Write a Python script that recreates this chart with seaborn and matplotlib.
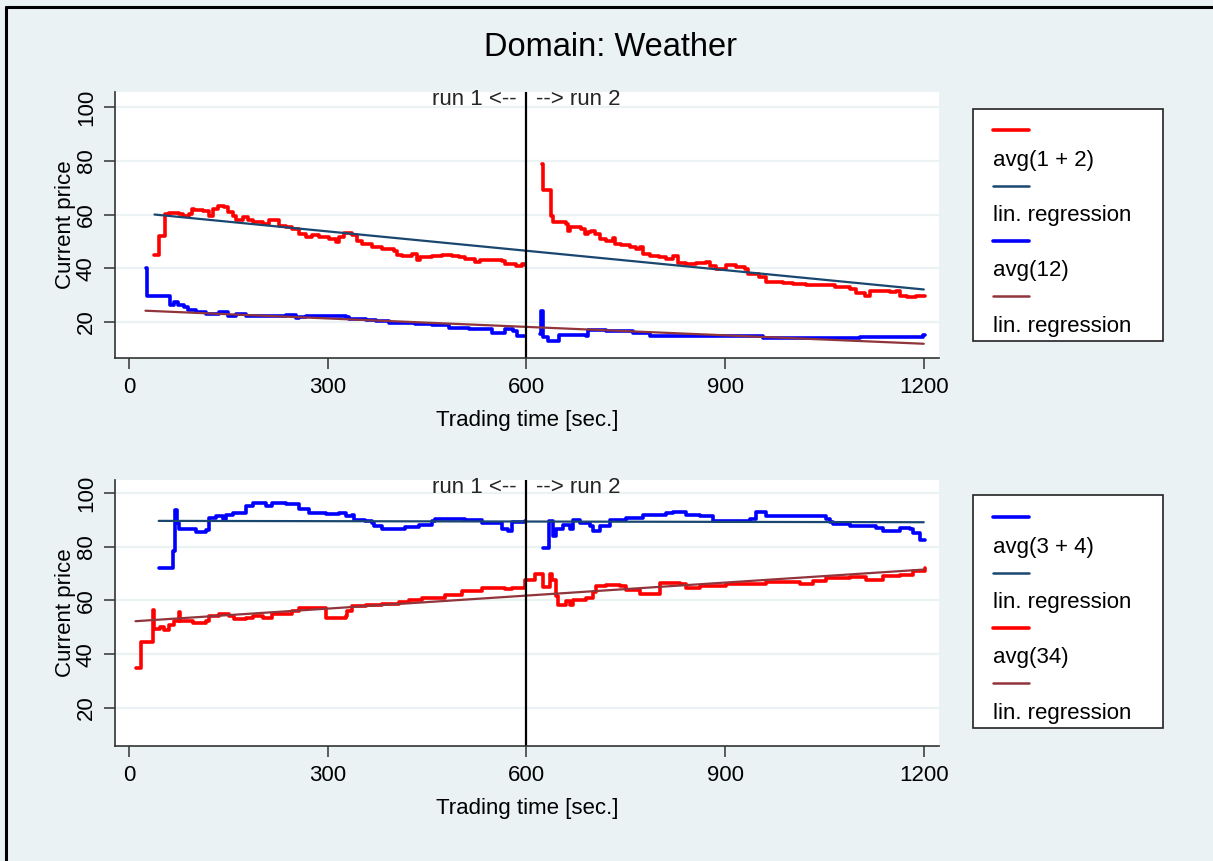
import pandas as pd
import matplotlib.pyplot as plt
import seaborn as sns
from matplotlib.lines import Line2D
from matplotlib.patches import Rectangle
from matplotlib.transforms import blended_transform_factory

# --- data: (trading time [sec.], current price) ---
# top panel
avg_1_2_run1 = [(38.6, 45.1), (45.2, 52.1), (54.2, 60.3), (61.2, 60.5), (76.3, 60.3), (81.3, 59.6),
                (91.3, 60.3), (95.3, 62.1), (98.8, 61.5), (111.4, 61.2), (121.4, 59.3), (126.4, 62.1),
                (134, 63.0), (144, 62.7), (149, 60.9), (156.5, 59.3), (161.5, 57.8), (171.6, 59.0),
                (179.1, 57.8), (186.6, 57.2), (201.7, 56.5), (211.7, 57.8), (219.2, 58.0), (226.8, 55.9),
                (236.8, 55.3), (246.8, 54.7), (256.9, 52.6), (266.9, 51.8), (276.9, 52.2), (287, 51.6),
                (302, 50.9), (312, 49.7), (317, 51.6), (324.6, 53.1), (337, 52.2), (344.7, 50.3),
                (352, 49.1), (367, 47.8), (382, 47.2), (400, 46.6), (405, 45.1), (412, 44.5),
                (427, 45.4), (435, 42.9), (440, 44.1), (457.5, 44.4), (472.6, 45.1), (487.7, 44.4),
                (497.7, 44.1), (507.7, 43.5), (522.8, 42.2), (530, 43.2), (548, 42.9), (563, 42.6),
                (568, 41.6), (585, 41.0), (593, 41.6), (598, 41.3)]
avg_1_2_run2 = [(623.7, 78.9), (625.2, 69.2), (637, 59.6), (640.3, 57.2), (660.4, 56.5), (662.9, 53.8),
                (665.4, 55.3), (683, 54.7), (688, 52.6), (693, 53.4), (698, 54.0), (703, 52.8),
                (710.7, 50.9), (720.8, 50.3), (730.9, 51.3), (733.4, 49.1), (743.5, 48.5), (756, 47.8),
                (766, 47.2), (771, 47.8), (776, 45.4), (786, 44.4), (801, 44.1), (811, 43.5),
                (821.5, 44.4), (829, 41.9), (841.6, 41.6), (856.7, 41.9), (871.8, 42.2), (876.9, 41.0),
                (887, 39.8), (902, 41.3), (917, 40.4), (929.7, 39.8), (934.8, 37.9), (952, 36.7),
                (962.4, 34.8), (987.6, 34.5), (1002.7, 34.2), (1022.9, 33.9), (1048, 33.7), (1063, 33.9),
                (1065.6, 32.9), (1088, 32.3), (1098.3, 30.8), (1110.9, 29.8), (1118.5, 31.4),
                (1148.7, 31.1), (1158.8, 31.7), (1163.8, 29.8), (1174, 29.2), (1189, 29.8), (1201.6, 29.8)]
avg_12_run1 = [(25.1, 40.1), (27.1, 29.8), (62.2, 26.5), (68.7, 27.3), (73.7, 26.5), (83.8, 25.5),
               (88.8, 24.5), (101.3, 23.6), (116.4, 23.0), (136.5, 23.6), (149, 22.4), (161.5, 23.0),
               (176.6, 22.4), (236.8, 22.6), (251.9, 21.5), (256.9, 22.0), (266.9, 22.4), (327.1, 21.8),
               (332.1, 21.1), (357.2, 20.8), (372.3, 20.3), (392.3, 19.5), (432.5, 19.3), (457.5, 18.7),
               (482.6, 17.8), (512.7, 17.4), (547.9, 15.8), (567.9, 17.4), (580.5, 16.5), (585.5, 14.9),
               (598, 14.9)]
avg_12_run2 = [(620, 15.5), (622.7, 24.2), (625, 14.3), (632.7, 13.1), (649, 15.3), (690.6, 14.9),
               (693, 17.0), (710.7, 17.0), (720.8, 16.5), (761, 15.8), (786, 14.9), (957.4, 14.1),
               (1103, 14.6), (1199, 15.3), (1201.6, 15.3)]
reg_1_2 = [(38.6, 60.0), (1200, 32.1)]
reg_12 = [(25, 24.2), (1200, 11.9)]

# bottom panel
avg_3_4_run1 = [(45.2, 72.1), (67.2, 78.3), (70.2, 93.8), (72.2, 88.8), (76.3, 86.6), (86.3, 86.4),
                (101.3, 85.4), (116.4, 86.1), (121.4, 90.7), (131.4, 91.3), (141.5, 90.3), (146.5, 91.9),
                (156.5, 92.7), (176.6, 95.0), (186.6, 96.3), (206.7, 95.3), (216.7, 96.3), (236.8, 95.7),
                (256.9, 94.0), (272, 92.6), (297, 92.3), (317, 92.6), (327, 91.3), (337, 91.9),
                (339.6, 90.1), (357, 89.5), (367, 88.8), (369.7, 87.6), (382, 86.6), (417.4, 87.4),
                (437.5, 88.2), (457.5, 89.5), (462.6, 90.3), (507.7, 89.8), (532.8, 88.8), (562.9, 86.4),
                (572.9, 85.7), (578, 89.1), (598, 89.5)]
avg_3_4_run2 = [(625.2, 79.5), (634.2, 89.5), (640.3, 83.9), (645.3, 86.4), (655.4, 88.2), (665.4, 86.4),
                (670.5, 90.1), (680.5, 88.8), (695.6, 87.6), (700.7, 85.7), (710.7, 87.6), (725.9, 90.1),
                (751, 90.7), (776.2, 91.9), (811.4, 92.6), (821.5, 92.8), (841.6, 91.9), (861.8, 91.3),
                (881.9, 89.5), (937.3, 90.3), (947.3, 92.8), (962.4, 91.5), (1033, 91.5), (1053, 90.3),
                (1058, 89.1), (1063, 88.6), (1088.3, 87.6), (1128.6, 87.0), (1138.6, 86.0), (1163.8, 87.0),
                (1178.9, 86.4), (1184, 85.1), (1195, 82.6), (1201.6, 82.6)]
avg_34_run1 = [(10.0, 34.9), (18.6, 44.4), (37.1, 56.3), (38.6, 49.4), (46.2, 50.3), (53.7, 48.9),
               (61.2, 51.0), (68.7, 52.2), (76.3, 55.6), (77.3, 52.3), (96.3, 51.6), (116.4, 52.3),
               (121.4, 54.1), (136.5, 55.1), (151.5, 54.3), (159, 53.1), (176.6, 53.5), (186.6, 54.1),
               (201.7, 53.5), (216.7, 55.1), (246.8, 56.0), (256.9, 57.2), (297.9, 53.5), (327.1, 54.1),
               (329.6, 56.0), (337.2, 57.8), (357.2, 58.4), (382.3, 58.8), (407.3, 59.3), (422.4, 60.3),
               (442.5, 60.9), (477.6, 62.2), (502.7, 63.4), (532.8, 64.7), (567.9, 64.3), (577.9, 64.7),
               (598, 67.8)]
avg_34_run2 = [(600, 67.8), (612.6, 70.0), (625.2, 65.0), (635.2, 70.0), (639.3, 67.8), (645.3, 61.6),
               (647.8, 58.5), (660.4, 59.7), (665.4, 58.5), (670.5, 60.3), (690.6, 60.9), (700.7, 63.0),
               (705.7, 65.3), (720.8, 65.9), (741, 65.3), (751, 63.8), (771, 62.6), (796, 62.6),
               (801.4, 66.5), (831.6, 66.3), (841.6, 64.7), (861.8, 65.3), (902, 66.3), (962.4, 66.8),
               (1012.8, 66.0), (1033, 67.1), (1053, 68.4), (1088.3, 68.8), (1113.5, 67.5), (1138.6, 69.2),
               (1163.8, 69.6), (1184, 70.9), (1201.6, 72.1)]
reg_3_4 = [(45, 89.6), (1200, 89.1)]
reg_34 = [(10, 52.3), (1200, 71.5)]

run_break = 600
x_ticks = [0, 300, 600, 900, 1200]
y_ticks = [20, 40, 60, 80, 100]

RED, BLUE, NAVY, MAROON = '#ff0000', '#0000ff', '#1a476f', '#90353b'
BG = '#eaf2f3'
FS = 16

sns.set_theme(style='white')
plt.rcParams['font.family'] = ['Liberation Sans', 'DejaVu Sans']

W, H = 1213, 861
fig = plt.figure(figsize=(W / 100, H / 100), dpi=100, facecolor=BG)


def fx(px):
    return px / W


def fy(py):
    return 1 - py / H


def df_of(pts):
    return pd.DataFrame(pts, columns=['t', 'price'])


def draw_panel(rect, ylim, step_series, reg_series, legend_items, legend_top, box_top, box_bottom):
    ax = fig.add_axes(rect)
    ax.set_facecolor('white')
    for pts, col in step_series:
        sns.lineplot(data=df_of(pts), x='t', y='price', ax=ax, color=col, lw=2.6,
                     drawstyle='steps-post', estimator=None, sort=False)
    for pts, col in reg_series:
        sns.lineplot(data=df_of(pts), x='t', y='price', ax=ax, color=col, lw=1.6,
                     estimator=None, sort=False)
    ax.axvline(run_break, color='black', lw=1.6)
    tr = blended_transform_factory(ax.transData, ax.transAxes)
    ax.annotate('run 1 <--', xy=(run_break, 0.953), xycoords=tr, xytext=(-7, 0),
                textcoords='offset points', ha='right', va='baseline', fontsize=FS)
    ax.annotate('--> run 2', xy=(run_break, 0.953), xycoords=tr, xytext=(7, 0),
                textcoords='offset points', ha='left', va='baseline', fontsize=FS)

    ax.set_xlim(-21, 1223)
    ax.set_ylim(*ylim)
    ax.set_xticks(x_ticks)
    ax.set_yticks(y_ticks, [str(v) for v in y_ticks], rotation=90, va='center')
    ax.grid(axis='y', color=BG, lw=1.6)
    ax.set_axisbelow(True)
    ax.tick_params(axis='both', direction='out', length=8, width=1.1, color='#333333',
                   labelsize=FS, labelcolor='black', left=True, bottom=True)
    ax.tick_params(axis='x', pad=6)
    ax.tick_params(axis='y', pad=5)
    for s in ['top', 'right']:
        ax.spines[s].set_visible(False)
    for s in ['left', 'bottom']:
        ax.spines[s].set_color('#333333')
        ax.spines[s].set_linewidth(1.2)
    ax.set_xlabel('Trading time [sec.]', fontsize=FS, labelpad=8, color='black')
    ax.set_ylabel('Current price', fontsize=FS, labelpad=0, color='black')

    # Stata-style legend: key line above its label, in a framed box
    handles, labels = [], []
    for lab, col, lw in legend_items:
        handles += [Line2D([], [], color=col, lw=lw), Line2D([], [], alpha=0)]
        labels += ['', lab]
    leg = ax.legend(handles, labels, loc='upper left', bbox_to_anchor=(fx(993), fy(legend_top)),
                    bbox_transform=fig.transFigure, frameon=False, borderpad=0, borderaxespad=0,
                    handlelength=1.6, handletextpad=-1.6, labelspacing=0.3, fontsize=FS)
    for t in leg.get_texts():
        t.set_color('black')
    fig.patches.append(Rectangle((fx(973), fy(box_bottom)), fx(1163) - fx(973), fy(box_top) - fy(box_bottom),
                                 transform=fig.transFigure, facecolor='white', edgecolor='#222222',
                                 lw=1.2, zorder=-1))
    return ax


draw_panel([fx(115), fy(358), fx(939) - fx(115), fy(92) - fy(358)], (6.6, 105.6),
           [(avg_1_2_run1, RED), (avg_1_2_run2, RED), (avg_12_run1, BLUE), (avg_12_run2, BLUE)],
           [(reg_1_2, NAVY), (reg_12, MAROON)],
           [('avg(1 + 2)', RED, 2.6), ('lin. regression', NAVY, 1.8),
            ('avg(12)', BLUE, 2.6), ('lin. regression', MAROON, 1.8)],
           122, 109, 341)

draw_panel([fx(115), fy(746), fx(939) - fx(115), fy(480) - fy(746)], (5.9, 104.8),
           [(avg_3_4_run1, BLUE), (avg_3_4_run2, BLUE), (avg_34_run1, RED), (avg_34_run2, RED)],
           [(reg_3_4, NAVY), (reg_34, MAROON)],
           [('avg(3 + 4)', BLUE, 2.6), ('lin. regression', NAVY, 1.8),
            ('avg(34)', RED, 2.6), ('lin. regression', MAROON, 1.8)],
           509, 495, 728)

fig.text(fx(610), fy(47), 'Domain: Weather', ha='center', va='center', fontsize=23.5, color='black')

# black frame edges along the left and top of the screenshot
fig.add_artist(Line2D([fx(6), fx(6)], [0, fy(7)], color='black', lw=2.2, transform=fig.transFigure))
fig.add_artist(Line2D([fx(6), 1], [fy(7), fy(7)], color='black', lw=2.2, transform=fig.transFigure))

fig.savefig('out.png', dpi=100, facecolor=BG)
